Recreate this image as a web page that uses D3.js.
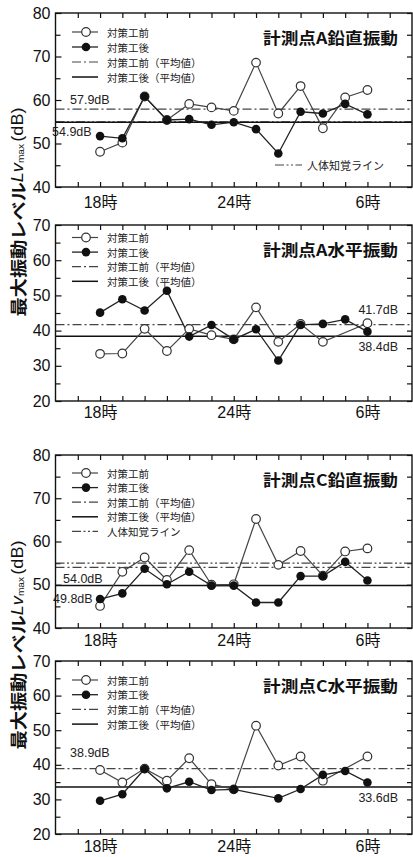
<!DOCTYPE html>
<html>
<head>
<meta charset="utf-8">
<script src="https://cdn.jsdelivr.net/npm/d3@7"></script>
<style>
  html, body { margin: 0; padding: 0; background: #fff; }
  svg { display: block; font-family: "Liberation Sans", Arial, "Noto Sans CJK JP", sans-serif; }
  .cjk { font-family: "Noto Sans CJK JP", "Liberation Sans", sans-serif; }
</style>
</head>
<body>
<script>
// Hours of measurement (24 = midnight, 30 = 6 a.m.)
const hours = [18, 19, 20, 21, 22, 23, 24, 25, 26, 27, 28, 29, 30];
const xTickHours = [18, 24, 30];
const xTickLabels = ["18時", "24時", "6時"];

const panelTitles = ["計測点A鉛直振動", "計測点A水平振動", "計測点C鉛直振動", "計測点C水平振動"];
const legendLabels = ["対策工前", "対策工後", "対策工前（平均値）", "対策工後（平均値）"];
const perceptionLabel = "人体知覚ライン";

// Maximum vibration level Lv,max (dB) per hour, before / after countermeasure
const aVertBefore = [48.1, 50.2, 60.8, 55.4, 59.1, 58.3, 57.5, 68.6, 56.9, 63.2, 53.5, 60.6, 62.3];
const aVertAfter  = [51.7, 51.2, 60.8, 55.4, 55.6, 54.3, 54.9, 53.3, 47.7, 57.3, 56.9, 59.1, 56.7];
const aHorBefore  = [33.4, 33.5, 40.5, 34.2, 40.5, 38.7, 37.5, 46.6, 36.8, 41.9, 36.8, null, 42.1];
const aHorAfter   = [45.1, 48.9, 45.7, 51.3, 38.3, 41.6, 37.5, 40.4, 31.5, 41.6, 41.9, 43.2, 39.7];
const cVertBefore = [45.1, 53.0, 56.3, 51.1, 58.0, 50.0, 50.1, 65.2, 54.6, 57.8, 52.1, 57.7, 58.4];
const cVertAfter  = [46.7, 48.0, 53.7, 50.1, 53.0, 49.8, 49.8, 45.9, 45.9, 52.0, 52.0, 55.3, 51.0];
const cHorBefore  = [38.5, 34.9, 38.9, 35.4, 41.9, 34.4, 32.9, 51.3, 39.8, 42.4, 35.4, null, 42.4];
const cHorAfter   = [29.6, 31.5, 38.8, 33.2, 35.1, 32.7, 32.9, null, 30.3, 33.0, 37.1, 38.2, 34.9];

// Average levels and human perception threshold
const meanBefore = [57.9, 41.7, 54.0, 38.9];
const meanAfter  = [54.9, 38.4, 49.8, 33.6];
const perceptionLevel = [55, null, 55, null];
const yDomains = [[40, 80], [20, 70], [40, 80], [20, 70]];

const seriesBefore = [aVertBefore, aHorBefore, cVertBefore, cHorBefore];
const seriesAfter  = [aVertAfter, aHorAfter, cVertAfter, cHorAfter];

const W = 413, H = 857;
const svg = d3.select("body").append("svg").attr("width", W).attr("height", H);

const L = 55.5, R = 412;
const x = d3.scaleLinear().domain([16, 32]).range([L, R]);

const DASHDOT = "9,3,2,3";
const DASHDOTDOT = "9,2.5,2,2.5,2,2.5";

// Per-panel layout
const layout = [
  { top: 13,  bottom: 187, legendY: 32,  legendStep: 15,   xLabPad: 9.5,
    labBefore: { x: 70, dy: -9, anchor: "start" }, labAfter: { x: 52, dy: 10, anchor: "start" },
    perceptionInLegend: false },
  { top: 225, bottom: 401, legendY: 237.5, legendStep: 14.6, xLabPad: 5.5,
    labBefore: { x: 398, dy: -15, anchor: "end" }, labAfter: { x: 398, dy: 11, anchor: "end" },
    perceptionInLegend: false },
  { top: 455, bottom: 628, legendY: 473, legendStep: 14.6, xLabPad: 6.5,
    labBefore: { x: 63, ref: "after", dy: -7, anchor: "start" }, labAfter: { x: 53, dy: 13, anchor: "start" },
    perceptionInLegend: true },
  { top: 661, bottom: 834, legendY: 680, legendStep: 14.7, xLabPad: 7,
    labBefore: { x: 70, dy: -16, anchor: "start" }, labAfter: { x: 398, dy: 11, anchor: "end" },
    perceptionInLegend: false }
];

layout.forEach((lay, p) => {
  const y = d3.scaleLinear().domain(yDomains[p]).range([lay.bottom, lay.top]);
  const g = svg.append("g");
  const [y0, y1] = yDomains[p];
  const majors = d3.range(y0, y1 + 0.1, 10);
  const minors = d3.range(y0 + 5, y1, 10);
  const hourTicks = d3.range(17, 32);

  // inward ticks on all four sides
  const tickStyle = sel => {
    sel.select(".domain").remove();
    sel.selectAll(".tick line").attr("stroke", "#111").attr("stroke-width", 1.2);
  };
  g.append("g").attr("transform", `translate(0,${lay.top})`)
    .call(d3.axisTop(x).tickValues(hourTicks).tickSize(-5).tickFormat(""))
    .call(tickStyle);
  g.append("g").attr("transform", `translate(0,${lay.bottom})`)
    .call(d3.axisBottom(x).tickValues(hourTicks).tickSize(-5).tickFormat(""))
    .call(tickStyle);
  g.append("g").attr("transform", `translate(0,${lay.bottom})`)
    .call(d3.axisBottom(x).tickValues(xTickHours).tickSize(0).tickPadding(lay.xLabPad)
      .tickFormat((d, i) => xTickLabels[i]))
    .call(sel => {
      sel.select(".domain").remove();
      sel.selectAll("text").attr("font-size", 16).attr("fill", "#111")
        .style("font-family", "'Liberation Sans', 'Noto Sans CJK JP', sans-serif");
    });
  g.append("g").attr("transform", `translate(${L},0)`)
    .call(d3.axisLeft(y).tickValues(majors).tickSize(-6).tickPadding(5).tickFormat(d3.format("d")))
    .call(tickStyle)
    .call(sel => sel.selectAll("text").attr("font-size", 16).attr("fill", "#111"));
  g.append("g").attr("transform", `translate(${L},0)`)
    .call(d3.axisLeft(y).tickValues(minors).tickSize(-5).tickFormat(""))
    .call(tickStyle);
  g.append("g").attr("transform", `translate(${R},0)`)
    .call(d3.axisRight(y).tickValues(majors.concat(minors)).tickSize(-5).tickFormat(""))
    .call(tickStyle);

  // reference lines
  const hline = (v, dash, color, width) => g.append("line")
    .attr("x1", L).attr("x2", R).attr("y1", y(v)).attr("y2", y(v))
    .attr("stroke", color).attr("stroke-width", width)
    .attr("stroke-dasharray", dash);
  if (perceptionLevel[p] != null) hline(perceptionLevel[p], DASHDOTDOT, "#444", 1.2);
  hline(meanBefore[p], DASHDOT, "#444", 1.2);
  hline(meanAfter[p], null, "#111", 1.5);

  // average value labels
  const fmt = v => v.toFixed(1) + "dB";
  const labB = lay.labBefore, labA = lay.labAfter;
  g.append("text").attr("x", labB.x)
    .attr("y", y(labB.ref === "after" ? meanAfter[p] : meanBefore[p]) + labB.dy)
    .attr("text-anchor", labB.anchor).attr("dominant-baseline", "central")
    .attr("font-size", 12.5).attr("fill", "#222").text(fmt(meanBefore[p]));
  g.append("text").attr("x", labA.x).attr("y", y(meanAfter[p]) + labA.dy)
    .attr("text-anchor", labA.anchor).attr("dominant-baseline", "central")
    .attr("font-size", 12.5).attr("fill", "#222").text(fmt(meanAfter[p]));

  // hourly series
  const pts = arr => hours.map((h, i) => ({ h, v: arr[i] })).filter(d => d.v != null);
  const line = d3.line().x(d => x(d.h)).y(d => y(d.v));
  const before = pts(seriesBefore[p]);
  const after = pts(seriesAfter[p]);
  g.append("path").datum(before).attr("d", line)
    .attr("fill", "none").attr("stroke", "#444").attr("stroke-width", 1.2);
  g.append("path").datum(after).attr("d", line)
    .attr("fill", "none").attr("stroke", "#222").attr("stroke-width", 1.3);
  g.selectAll(".ob").data(before).join("circle").attr("class", "ob")
    .attr("cx", d => x(d.h)).attr("cy", d => y(d.v)).attr("r", 4.3)
    .attr("fill", "#fff").attr("stroke", "#333").attr("stroke-width", 1.2);
  g.selectAll(".fa").data(after).join("circle").attr("class", "fa")
    .attr("cx", d => x(d.h)).attr("cy", d => y(d.v)).attr("r", 4.3)
    .attr("fill", "#111");

  // frame
  g.append("rect").attr("x", L).attr("y", lay.top)
    .attr("width", R - L).attr("height", lay.bottom - lay.top)
    .attr("fill", "none").attr("stroke", "#111").attr("stroke-width", 1.4);

  // title
  g.append("text").attr("class", "cjk").attr("x", 398).attr("y", lay.top + 23.5)
    .attr("text-anchor", "end").attr("dominant-baseline", "central")
    .attr("font-size", 16).attr("font-weight", "bold").attr("fill", "#111")
    .attr("textLength", 135).attr("lengthAdjust", "spacingAndGlyphs")
    .text(panelTitles[p]);

  // legend
  const lx0 = 72, lx1 = 98, lmx = 86, ltx = 107;
  const rows = legendLabels.map((t, i) => ({ t, i }));
  if (lay.perceptionInLegend) rows.push({ t: perceptionLabel, i: 4 });
  rows.forEach(r => {
    const ly = lay.legendY + r.i * lay.legendStep;
    const ln = g.append("line").attr("x1", lx0).attr("x2", lx1).attr("y1", ly).attr("y2", ly);
    if (r.i === 0) {
      ln.attr("stroke", "#444").attr("stroke-width", 1.2);
      g.append("circle").attr("cx", lmx).attr("cy", ly).attr("r", 4.3)
        .attr("fill", "#fff").attr("stroke", "#333").attr("stroke-width", 1.2);
    } else if (r.i === 1) {
      ln.attr("stroke", "#222").attr("stroke-width", 1.3);
      g.append("circle").attr("cx", lmx).attr("cy", ly).attr("r", 4.3).attr("fill", "#111");
    } else if (r.i === 2) {
      ln.attr("stroke", "#444").attr("stroke-width", 1.2).attr("stroke-dasharray", DASHDOT);
    } else if (r.i === 3) {
      ln.attr("stroke", "#111").attr("stroke-width", 1.5);
    } else {
      ln.attr("stroke", "#444").attr("stroke-width", 1.2).attr("stroke-dasharray", DASHDOTDOT);
    }
    g.append("text").attr("class", "cjk").attr("x", ltx).attr("y", ly)
      .attr("dominant-baseline", "central").attr("font-size", 10.5).attr("fill", "#222")
      .text(r.t);
  });

  // perception line key placed at lower right
  if (perceptionLevel[p] != null && !lay.perceptionInLegend) {
    const ky = lay.bottom - 22;
    g.append("line").attr("x1", 275).attr("x2", 302).attr("y1", ky).attr("y2", ky)
      .attr("stroke", "#444").attr("stroke-width", 1.2).attr("stroke-dasharray", DASHDOTDOT);
    g.append("text").attr("class", "cjk").attr("x", 307).attr("y", ky)
      .attr("dominant-baseline", "central").attr("font-size", 11).attr("fill", "#222")
      .text(perceptionLabel);
  }
});

// vertical axis titles shared by each pair of panels
[212, 645].forEach(cy => {
  const t = svg.append("text")
    .attr("transform", `translate(17,${cy}) rotate(-90)`)
    .attr("text-anchor", "middle").attr("dominant-baseline", "central")
    .attr("fill", "#111").attr("font-size", 16)
    .attr("textLength", 209).attr("lengthAdjust", "spacingAndGlyphs");
  t.append("tspan").attr("class", "cjk").attr("font-weight", "bold").attr("font-size", 17).text("最大振動レベル");
  t.append("tspan").attr("font-style", "italic").text("Lv");
  t.append("tspan").attr("font-size", 9).attr("dy", 4).text("max");
  t.append("tspan").attr("dy", -4).attr("dx", 2).text("(dB)");
});
</script>
</body>
</html>
